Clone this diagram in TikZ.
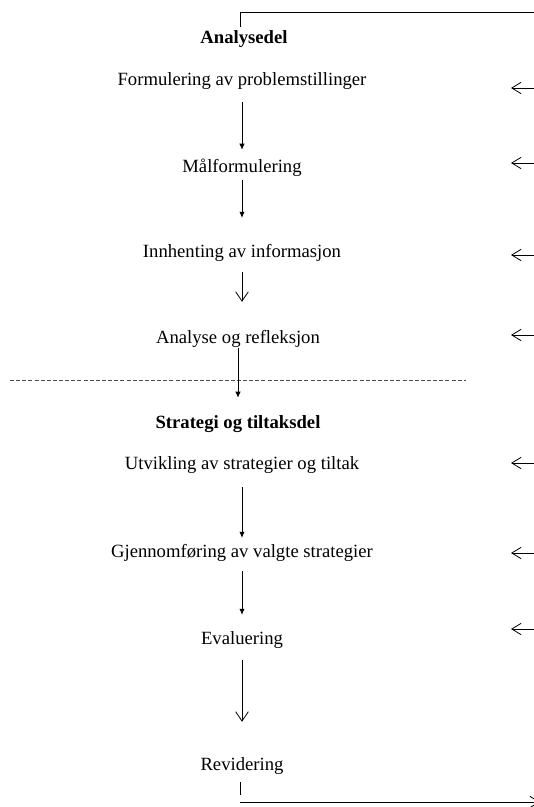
\documentclass[tikz,border=0pt]{standalone}
\usepackage{fontspec}
\setmainfont{Liberation Serif}
\usetikzlibrary{arrows.meta}
\tikzset{
  txt/.style = {inner sep=0pt, anchor=base, font=\fontsize{14}{16}\selectfont,
                text height=9.5pt, text depth=3pt},
  hd/.style  = {txt, font=\fontsize{14}{16}\selectfont\bfseries},
  ar/.style  = {-{Latex[length=4.5pt,width=4pt]}, line width=0.6pt},
  aro/.style = {-{Straight Barb[length=7pt,width=9.5pt]}, line width=0.6pt},
  fb/.style  = {-{Straight Barb[length=7pt,width=8.5pt]}, line width=0.6pt},
  lp/.style  = {line width=0.6pt},
  sep/.style = {line width=0.6pt, black!70, dash pattern=on 3pt off 1.6pt}
}

\begin{document}
\begin{tikzpicture}[x=0.75pt, y=-0.75pt]
\clip (0,0) rectangle (534,807);
% ---- analysis part ----
\node[hd]  (anadel) at (244,43)  {Analysedel};
\node[txt] (form)   at (242,85)  {Formulering av problemstillinger};
\node[txt] (mal)    at (242,172) {Målformulering};
\node[txt] (inn)    at (242,257) {Innhenting av informasjon};
\node[txt] (ana)    at (238,343) {Analyse og refleksjon};

% ---- divider ----
\draw[sep] (10,380) -- (466,380);

% ---- strategy part ----
\node[hd]  (strat) at (238,428) {Strategi og tiltaksdel};
\node[txt] (utv)   at (242,469) {Utvikling av strategier og tiltak};
\node[txt] (gjen)  at (242,557) {Gjennomføring av valgte strategier};
\node[txt] (eval)  at (242,644) {Evaluering};
\node[txt] (rev)   at (242,770) {Revidering};

% ---- steps ----
\draw[ar,  shorten <=9.75pt, shorten >=7pt]    (form.south) -- (form.south |- mal.north);
\draw[ar,  shorten <=3pt,    shorten >=19.7pt] (mal.south)  -- (mal.south |- inn.north);
\draw[aro, shorten <=8.25pt, shorten >=21.2pt] (inn.south)  -- (inn.south |- ana.north);
\draw[ar,  shorten <=0.75pt, shorten >=13pt]   (ana.south)  -- (ana.south |- strat.north);
\draw[ar,  shorten <=10.5pt, shorten >=4.7pt]  (utv.south)  -- (utv.south |- gjen.north);
\draw[ar,  shorten <=7.5pt,  shorten >=12.2pt] (gjen.south) -- (gjen.south |- eval.north);
\draw[aro, shorten <=9pt,    shorten >=26.5pt] (eval.south) -- (eval.south |- rev.north);

% ---- feedback from the right ----
\coordinate (fbR) at (536,0);
\coordinate (fbL) at (511,0);
\foreach \n/\s in {form/-2.25, mal/6.75, inn/1.5, ana/6, utv/4.5, gjen/3, eval/11.25}
  \draw[fb] ([yshift=\s pt]fbR |- \n.base) -- ([yshift=\s pt]fbL |- \n.base);

% ---- loop back to the top ----
\coordinate (topR)   at (540,12);
\coordinate (topL)   at (240,12);
\coordinate (topIn)  at (240,27);
\draw[lp] (topR) -- (topL) -- (topIn);
\coordinate (revOut) at (240,795);
\coordinate (botL)   at (240,802);
\coordinate (botR)   at (540,802);
\draw[lp, shorten <=6pt] (rev.south -| revOut) -- (revOut);
\draw[fb] (botL) -- (botR);
\end{tikzpicture}
\end{document}
